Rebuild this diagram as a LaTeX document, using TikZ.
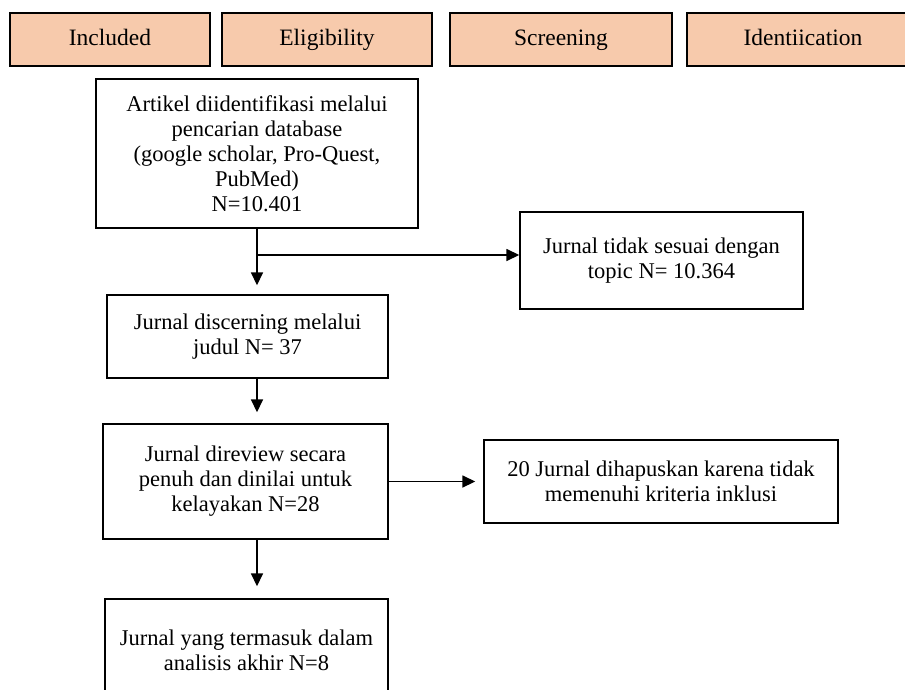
\documentclass[tikz,border=0pt]{standalone}
\usepackage{fontspec}
\setmainfont{Liberation Serif}
\usepackage{tikz}
\usetikzlibrary{arrows.meta}
\definecolor{peach}{HTML}{F7CAAC}

\begin{document}
\begin{tikzpicture}[x=1pt, y=-1pt,
	stage/.style={draw, line width=1.4pt, fill=peach, minimum height=53pt, inner sep=0pt, text height=16pt, text depth=5pt, font=\fontsize{23.5}{26}\selectfont},
	flowbox/.style={draw, line width=1.4pt, fill=white, align=center, inner sep=0pt, font=\fontsize{22.5}{25}\selectfont},
	flowarrow/.style={line width=1.6pt, -{Triangle[length=13pt,width=12pt]}}]

\clip (0,0) rectangle (905,689);
\fill[white] (0,0) rectangle (905,689);

% stages of the review
\foreach \name/\x/\w in {Included/110/200, Eligibility/327/210, Screening/561/222, Identiication/803/232}
	\node[stage, minimum width=\w pt] (\name) at (\x, 39.5) {\name};

\node[flowbox, minimum width=322pt, minimum height=149pt] (artikel) at (257, 153.5) {Artikel diidentifikasi melalui\\pencarian database\\(google scholar, Pro-Quest,\\PubMed)\\N=10.401};
\node[flowbox, minimum width=283pt, minimum height=97pt] (topik) at (661.5, 260.5) {Jurnal tidak sesuai dengan\\topic N= 10.364};
\node[flowbox, minimum width=281pt, minimum height=83pt] (judul) at (247.5, 336.5) {Jurnal discerning melalui\\judul N= 37};
\node[flowbox, minimum width=285pt, minimum height=115pt] (review) at (245.5, 481.5) {Jurnal direview secara\\penuh dan dinilai untuk\\kelayakan N=28};
\node[flowbox, minimum width=354pt, minimum height=83pt] (hapus) at (661, 481.5) {20 Jurnal dihapuskan karena tidak\\memenuhi kriteria inklusi};
\node[flowbox, minimum width=283pt, minimum height=102pt] (akhir) at (246.5, 650) {Jurnal yang termasuk dalam\\analisis akhir N=8};

% arrows
\coordinate (cabang) at (artikel.south |- 0,255);
\draw[flowarrow, shorten >=9pt] (artikel.south) -- (artikel.south |- judul.north);
\draw[flowarrow] (cabang) -- (cabang -| topik.west);
\draw[flowarrow, shorten >=11pt] (artikel.south |- judul.south) -- (artikel.south |- review.north);
\draw[flowarrow, shorten >=8pt] (review.east) -- (hapus.west);
\draw[flowarrow, shorten >=12pt] (artikel.south |- review.south) -- (artikel.south |- akhir.north);

\end{tikzpicture}
\end{document}
